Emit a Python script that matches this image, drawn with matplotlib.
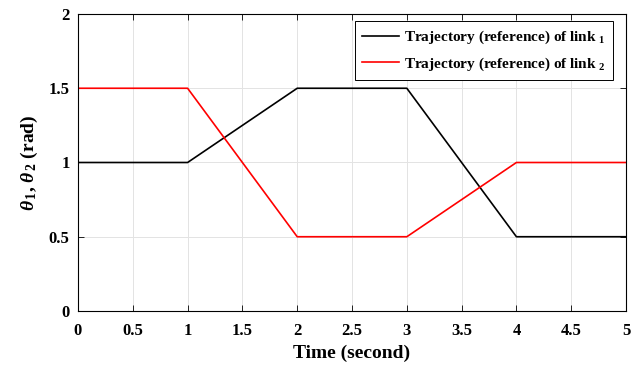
import numpy as np
import matplotlib
matplotlib.use('Agg')
import matplotlib.pyplot as plt

# fuentes tipo Times en negrita, estilo MATLAB
plt.rcParams['font.family'] = 'Liberation Serif'
plt.rcParams['font.weight'] = 'bold'
plt.rcParams['mathtext.fontset'] = 'custom'
plt.rcParams['mathtext.rm'] = 'Liberation Serif:bold'
plt.rcParams['mathtext.it'] = 'Liberation Serif:italic:bold'
plt.rcParams['mathtext.bf'] = 'Liberation Serif:bold'

# trayectorias de referencia
t = [0, 1, 2, 3, 4, 5]
theta1 = [1, 1, 1.5, 1.5, 0.5, 0.5]
theta2 = [1.5, 1.5, 0.5, 0.5, 1, 1]

fig = plt.figure(figsize=(6.43, 3.65), dpi=100)
ax = fig.add_axes([0.1213, 0.148, 0.8523, 0.8136])
ax.plot(t, theta1, color='black', lw=1.2, label='Trajectory (reference) of link $_{1}$')
ax.plot(t, theta2, color='red', lw=1.2, label='Trajectory (reference) of link $_{2}$')
ax.set_xlim(0, 5)
ax.set_ylim(0, 2)
ax.set_xticks(np.arange(0, 5.01, 0.5))
ax.set_xticklabels(['0', '0.5', '1', '1.5', '2', '2.5', '3', '3.5', '4', '4.5', '5'])
ax.set_yticks([0, 0.5, 1, 1.5, 2])
ax.set_yticklabels(['0', '0.5', '1', '1.5', '2'])
ax.tick_params(direction='in', labelsize=12, length=4, width=0.6, top=True, right=True)
ax.tick_params(axis='x', pad=9)
ax.tick_params(axis='y', pad=6)
ax.grid(color='#e3e3e3', lw=0.7)
for s in ax.spines.values():
    s.set_linewidth(0.8)
ax.set_xlabel('Time (second)', fontsize=14, fontweight='bold', labelpad=4)
ax.set_ylabel(r'$\theta_{\,1}$, $\theta_{\,2}$ (rad)', fontsize=14, fontweight='bold', labelpad=6)
leg = ax.legend(loc='upper left', bbox_to_anchor=(0.505, 0.976), fontsize=11.0, fancybox=False,
                edgecolor='black', framealpha=1, handlelength=2.4, handletextpad=0.3,
                borderpad=0.5, labelspacing=0.6, borderaxespad=0)
leg.get_frame().set_linewidth(0.7)
plt.savefig('out.png', dpi=100)
